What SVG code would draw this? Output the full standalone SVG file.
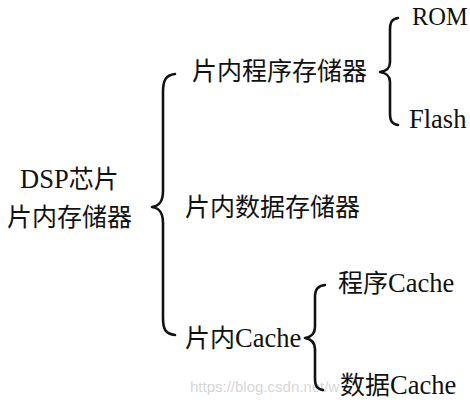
<svg xmlns="http://www.w3.org/2000/svg" width="470" height="405" viewBox="0 0 470 405">
<style>
.t{font-family:"Liberation Serif","Noto Sans CJK SC",serif;font-size:25px;fill:#111}
.l{font-size:26.5px}
.b{fill:none;stroke:#111;stroke-width:2.6;stroke-linecap:round;stroke-linejoin:round}
.wm{font-family:"Liberation Sans",Arial,sans-serif;font-size:15px;fill:#d6d6d6}
</style>
<rect width="470" height="405" fill="#fff"/>
<text class="wm" x="190" y="392">https://blog.csdn.net/w</text>
<g id="connectors">
<path class="b" d="M175,74 C166,75 163,80 163,92 L163,191 C163,202 159,206 152,207 C159,208 163,212 163,223 L163,318 C163,330 166,334 175,335"/>
<path class="b" d="M398,18 C392,19 390,22 390,30 L390,62 C390,69 386,71 380,72 C386,73 390,75 390,82 L390,113 C390,121 392,124 398,125"/>
<path class="b" d="M325,285 C318,286 315,289 315,297 L315,327 C315,334 311,337 305,338 C311,339 315,342 315,349 L315,378 C315,386 317,389 323,390"/>
</g>
<g id="root"><text class="t" x="20" y="188"><tspan class="l">DSP</tspan>芯片</text><text class="t" x="7" y="226">片内存储器</text></g>
<g id="prog"><text class="t" x="192" y="80">片内程序存储器</text></g>
<g id="data"><text class="t" x="185" y="216">片内数据存储器</text></g>
<g id="cache"><text class="t" x="185" y="347">片内<tspan class="l">Cache</tspan></text></g>
<g id="rom"><text class="t" x="412" y="25" style="font-size:24.5px">ROM</text></g>
<g id="flash"><text class="t l" x="409" y="128">Flash</text></g>
<g id="pcache"><text class="t" x="338" y="292">程序<tspan class="l">Cache</tspan></text></g>
<g id="dcache"><text class="t" x="340" y="394">数据<tspan class="l">Cache</tspan></text></g>
</svg>
